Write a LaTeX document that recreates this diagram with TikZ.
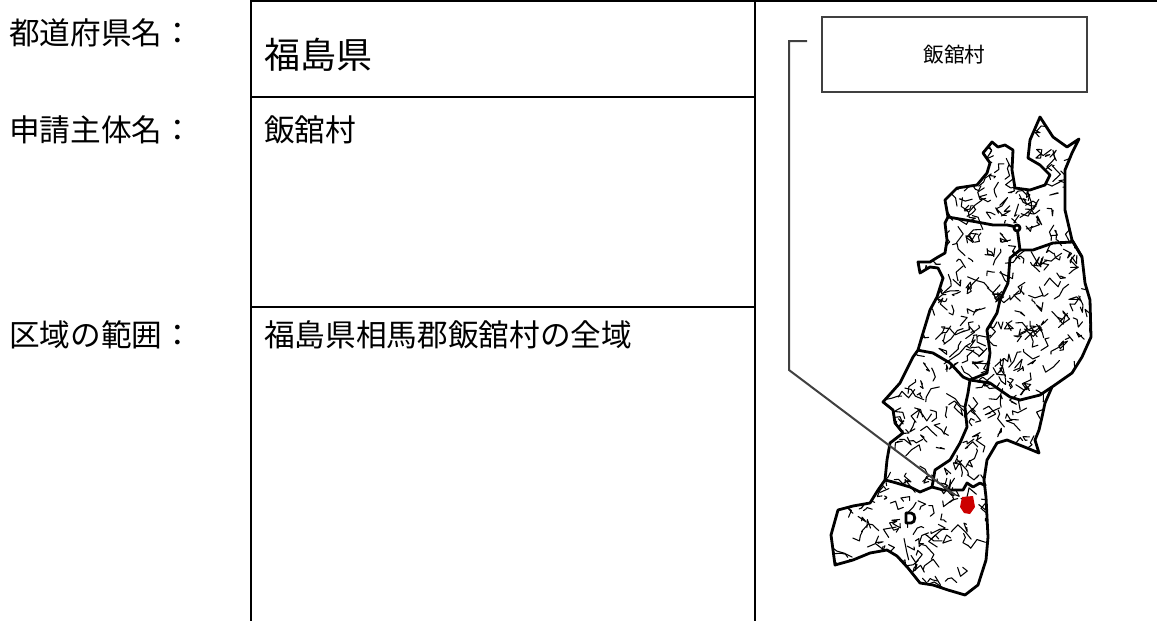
\documentclass[tikz,border=0pt]{standalone}
\usepackage{fontspec}
\setmainfont{Noto Sans CJK JP}
\newcommand\tohokuoutline{(1040,117) -- (1053,137) -- (1067,147) -- (1079,139) -- (1072,153) -- (1065,170)
  -- (1065,210) -- (1072,240) -- (1082,257) -- (1085,283) -- (1090,300) -- (1091,337) -- (1082,357)
  -- (1072,373) -- (1052,387) -- (1045,403) -- (1042,417) -- (1039,430) -- (1035,440) -- (1039,453)
  -- (1027,448) -- (1007,440) -- (997,443) -- (987,460) -- (984,480) -- (986,497) -- (988,537)
  -- (986,560) -- (978,585) -- (965,595) -- (948,590) -- (933,585) -- (920,583) -- (908,568)
  -- (897,556) -- (887,550) -- (870,553) -- (853,560) -- (835,565) -- (831,535) -- (838,510)
  -- (853,506) -- (870,503) -- (878,490) -- (885,480) -- (887,460) -- (890,443) -- (903,433)
  -- (895,423) -- (893,410) -- (883,402) -- (900,383) -- (913,357) -- (918,350) -- (923,333)
  -- (930,310) -- (937,297) -- (943,278) -- (938,268) -- (930,267) -- (920,273) -- (918,262)
  -- (930,262) -- (938,257) -- (945,253) -- (947,240) -- (945,223) -- (948,217) -- (945,200)
  -- (957,188) -- (977,185) -- (987,173) -- (990,163) -- (983,153) -- (992,142) -- (998,147)
  -- (1005,145) -- (1013,150) -- (1012,170) -- (1015,188) -- (1030,190) -- (1045,185)
  -- (1050,175) -- (1040,165) -- (1028,158) -- (1030,140) -- cycle}

\begin{document}
\begin{tikzpicture}
  [x=0.75pt,y=-0.75pt,every node/.style={inner sep=0pt},
   rowtext/.style={anchor=west,font=\fontsize{23}{27}\selectfont},
   rule/.style={line width=2pt},
   pref/.style={line width=2.1pt,line join=round},
   town/.style={line width=0.8pt,line cap=round,line join=round},
   lead/.style={draw=black!75,line width=1.5pt}]
  \useasboundingbox (0,0) rectangle (1157,621);

  \draw[rule] (251,0) -- (251,621) (755,0) -- (755,621) (251,1) -- (1157,1)
    (251,97) -- (755,97) (251,307) -- (755,307);

  \node[rowtext] (lbpref) at (9,33) {都道府県名：};
  \node[rowtext] (lbappl) at (9,130) {申請主体名：};
  \node[rowtext] (lbarea) at (9,335) {区域の範囲：};
  \node[rowtext,font=\fontsize{27}{30}\selectfont] (prefname) at (264,55) {福島県};
  \node[rowtext] (applname) at (264,130) {飯舘村};
  \node[rowtext] (areaname) at (264,335) {福島県相馬郡飯舘村の全域};

  \node[lead,minimum width=198.75pt,minimum height=56.25pt,font=\fontsize{15.5}{18}\selectfont]
    (villbox) at (954.5,54.5) {飯舘村};

  \begin{scope}
    \clip \tohokuoutline;
    \pgfmathsetseed{11}
    \foreach \i in {1,...,850}{
      \pgfmathsetmacro\sx{828+268*rnd}
      \pgfmathsetmacro\sy{115+482*rnd}
      \draw[town] (\sx,\sy) -- ++(18*rnd-9,18*rnd-9) -- ++(18*rnd-9,18*rnd-9) -- ++(14*rnd-7,14*rnd-7);
    }
  \end{scope}

  \draw[pref] \tohokuoutline;
  \draw[pref] (948,217) -- (977,222) -- (993,225) -- (1007,225) -- (1017,227) -- (1020,250)
    -- (1033,250) -- (1053,243) -- (1073,242) -- (1082,257);
  \draw[pref] (1020,250) -- (1010,258) -- (1008,283) -- (1000,300) -- (997,313) -- (987,330)
    -- (990,353) -- (987,373) -- (970,380);
  \draw[pref] (917,350) -- (933,353) -- (950,363) -- (963,377) -- (970,380);
  \draw[pref] (970,380) -- (990,383) -- (1010,397) -- (1020,400) -- (1040,395) -- (1052,387);
  \draw[pref] (970,380) -- (968,393) -- (965,407) -- (967,427) -- (960,443) -- (950,460)
    -- (935,470) -- (932,487);
  \draw[pref] (885,480) -- (893,482) -- (910,487) -- (920,492) -- (932,487);
  \draw[pref] (932,487) -- (943,490) -- (963,490) -- (967,483) -- (973,487) -- (980,483) -- (986,486);
  \draw[pref,fill=white] (1017,228) circle[radius=3];
  \draw[pref,fill=white] (906,513) -- (911,513) .. controls (916,513) and (916,523) .. (911,523)
    -- (906,523) -- cycle;
  \fill[red!80!black] (962,497) -- (973,496) -- (975,507) -- (970,514) -- (964,513) -- (960,507) -- cycle;

  \coordinate (ldstart) at (807,41);
  \coordinate (ldknee) at (789,370);
  \coordinate (iitate) at (955,495);
  \draw[lead] (ldstart) -| (ldknee) -- (iitate);
\end{tikzpicture}
\end{document}
